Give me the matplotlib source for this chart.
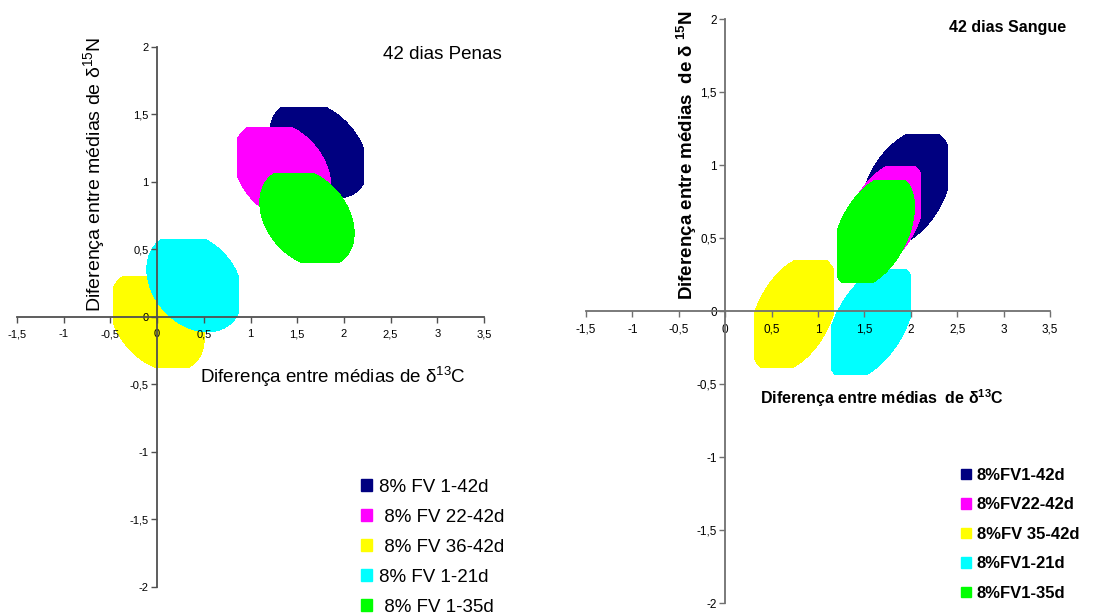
import numpy as np
import matplotlib
matplotlib.use('Agg')
import matplotlib.pyplot as plt
from matplotlib.patches import Rectangle, Patch

plt.rcParams['font.family'] = ['Liberation Sans', 'DejaVu Sans']
plt.rcParams['axes.unicode_minus'] = False
plt.rcParams['mathtext.fontset'] = 'custom'
plt.rcParams['mathtext.rm'] = 'Liberation Sans'
plt.rcParams['mathtext.bf'] = 'Liberation Sans:bold'

colors = ['#000080', '#FF00FF', '#FFFF00', '#00FFFF', '#00FF00']

# 42 dias Penas: ellipse centre, half extents, correlation, clip box
penas_labels = ['8% FV 1-42d', ' 8% FV 22-42d', ' 8% FV 36-42d', '8% FV 1-21d', ' 8% FV 1-35d']
penas_cx = [1.73, 1.34, 0.00, 0.40, 1.605]
penas_cy = [1.24, 1.08, -0.03, 0.255, 0.735]
penas_a = [0.52, 0.52, 0.505, 0.51, 0.505]
penas_b = [0.36, 0.37, 0.37, 0.365, 0.365]
penas_rho = [-0.36, -0.30, -0.34, -0.27, -0.31]
penas_xmin = [1.00, 0.86, -0.47, -0.15, 1.05]
penas_xmax = [2.22, 1.95, 0.55, 0.88, 2.15]
penas_ymin = [0.80, 0.60, -0.38, -0.15, 0.40]
penas_ymax = [1.555, 1.41, 0.30, 0.58, 1.07]

# 42 dias Sangue
sangue_labels = ['8%FV1-42d', '8%FV22-42d', '8%FV 35-42d', '8%FV1-21d', '8%FV1-35d']
sangue_cx = [1.95, 1.71, 0.74, 1.57, 1.60]
sangue_cy = [0.84, 0.64, -0.02, -0.075, 0.545]
sangue_a = [0.49, 0.44, 0.47, 0.47, 0.44]
sangue_b = [0.40, 0.38, 0.40, 0.395, 0.385]
sangue_rho = [0.40, 0.45, 0.42, 0.50, 0.44]
sangue_xmin = [1.30, 1.20, 0.31, 1.14, 1.20]
sangue_xmax = [2.40, 2.11, 1.17, 2.00, 2.05]
sangue_ymin = [0.40, 0.20, -0.39, -0.44, 0.19]
sangue_ymax = [1.21, 0.99, 0.35, 0.29, 0.90]

xticks = [-1.5, -1, -0.5, 0, 0.5, 1, 1.5, 2, 2.5, 3, 3.5]
yticks = [-2, -1.5, -1, -0.5, 0, 0.5, 1, 1.5, 2]


def fmt(v):
    return ('%g' % v).replace('.', ',')


def draw_panel(ax, cx, cy, a, b, rho, xmin, xmax, ymin, ymax, axcolor, tsize):
    t = np.linspace(0, 2 * np.pi, 300)
    for i in range(len(cx)):
        x = cx[i] + a[i] * np.cos(t)
        y = cy[i] + b[i] * (rho[i] * np.cos(t) - np.sqrt(1 - rho[i] ** 2) * np.sin(t))
        poly = ax.fill(x, y, color=colors[i], lw=0, antialiased=False)[0]
        box = Rectangle((xmin[i], ymin[i]), xmax[i] - xmin[i], ymax[i] - ymin[i],
                        transform=ax.transData)
        poly.set_clip_path(box)
    ax.set_xlim(-1.5, 3.5)
    ax.set_ylim(-2, 2)
    for s in ['top', 'right']:
        ax.spines[s].set_visible(False)
    ax.spines['left'].set_position(('data', 0))
    ax.spines['bottom'].set_position(('data', 0))
    for s in ['left', 'bottom']:
        ax.spines[s].set_color(axcolor)
        ax.spines[s].set_linewidth(1.3)
    ax.set_xticks(xticks)
    ax.set_xticklabels([fmt(v) for v in xticks])
    ax.set_yticks(yticks)
    ax.set_yticklabels([fmt(v) for v in yticks])
    ax.tick_params(direction='out', length=4, width=1, color=axcolor,
                   labelsize=tsize)
    ax.tick_params(axis='x', pad=5)
    ax.tick_params(axis='y', pad=2)
    ax.patch.set_alpha(0)


fig = plt.figure(figsize=(11.06, 6.16), dpi=100)

ax1 = fig.add_axes([0.0154, 0.0471, 0.4222, 0.8766])
draw_panel(ax1, penas_cx, penas_cy, penas_a, penas_b, penas_rho,
           penas_xmin, penas_xmax, penas_ymin, penas_ymax, '#505050', 8)

ax2 = fig.add_axes([0.5298, 0.0211, 0.4195, 0.948])
draw_panel(ax2, sangue_cx, sangue_cy, sangue_a, sangue_b, sangue_rho,
           sangue_xmin, sangue_xmax, sangue_ymin, sangue_ymax, '#707070', 8.5)

# left panel texts
fig.text(0.400, 0.912, '42 dias Penas', fontsize=13.5, ha='center', va='center')
fig.text(0.301, 0.388, r'Diferença entre médias de δ$^{13}$C', fontsize=13.5,
         ha='center', va='center')
fig.text(0.086, 0.717, r'Diferença entre médias de δ$^{15}$N', fontsize=14,
         ha='center', va='center', rotation=90)

# right panel texts
fig.text(0.911, 0.956, '42 dias Sangue', fontsize=11.5, fontweight='bold',
         ha='center', va='center')
fig.text(0.797, 0.354, r'Diferença entre médias  de δ$^{\mathbf{13}}$C', fontsize=11.5,
         fontweight='bold', ha='center', va='center')
fig.text(0.621, 0.748, r'Diferença entre médias  de δ $^{\mathbf{15}}$N', fontsize=13.5,
         fontweight='bold', ha='center', va='center', rotation=90)

h1 = [Patch(color=c) for c in colors]
fig.legend(h1, penas_labels, loc='upper left', bbox_to_anchor=(0.326, 0.2225),
           frameon=False, fontsize=13.5, handlelength=0.6, handleheight=0.6,
           handletextpad=0.4, labelspacing=0.69, borderpad=0, borderaxespad=0)

h2 = [Patch(color=c) for c in colors]
fig.legend(h2, sangue_labels, loc='upper left', bbox_to_anchor=(0.8685, 0.2405),
           frameon=False, prop={'size': 12, 'weight': 'bold'}, handlelength=0.6,
           handleheight=0.6, handletextpad=0.36, labelspacing=0.87, borderpad=0,
           borderaxespad=0)

fig.savefig('out.png', dpi=100)
